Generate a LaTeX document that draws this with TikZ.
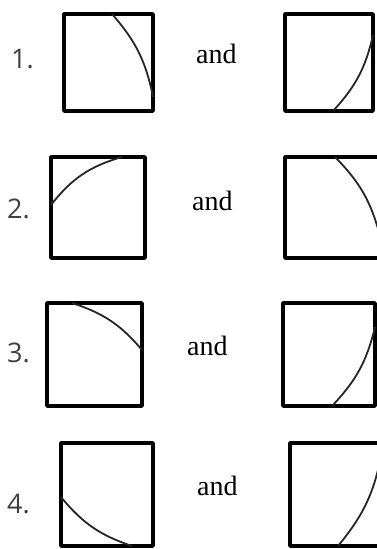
\documentclass[tikz,border=0pt]{standalone}
\usepackage{fontspec}
\setmainfont{Liberation Serif}
\newfontfamily\numfont{Open Sans}
\usepackage{tikz}
\usetikzlibrary{positioning}

\tikzset{
    tilebox/.style={line width=3.5pt, line join=round},
    quarterarc/.style={line width=1.8pt, black!85},
    numlabel/.style={anchor=base west, inner sep=0pt, font=\numfont\fontsize{27}{30}\selectfont, text=black!75},
    andlabel/.style={anchor=base west, inner sep=0pt, font=\fontsize{28}{30}\selectfont, text=black}
}

\begin{document}
\begin{tikzpicture}[x=1pt,y=1pt]

        %=====================
        % Frame
        %=====================
        \clip (0,0) rectangle (377,-549);

        %=====================
        % Row 1
        %=====================
        \node[numlabel] (num1) at (11,-68) {1.};
        \draw[tilebox] (64,-14) rectangle (153,-111);
        \draw[quarterarc] (112,-14) to[bend left=15] (153,-97);
        \node[andlabel] (and1) at (196,-63) {and};
        \draw[tilebox] (285,-14) rectangle (373,-111);
        \draw[quarterarc] (333,-111) to[bend right=15] (373,-35);

        %=====================
        % Row 2
        %=====================
        \node[numlabel] (num2) at (7,-218) {2.};
        \draw[tilebox] (51,-157) rectangle (145,-258);
        \draw[quarterarc] (51,-205) to[bend left=18] (122,-157);
        \node[andlabel] (and2) at (192,-210) {and};
        \draw[tilebox] (285,-157) rectangle (380,-258);
        \draw[quarterarc] (335,-157) to[bend left=15] (380,-236);

        %=====================
        % Row 3
        %=====================
        \node[numlabel] (num3) at (7,-362) {3.};
        \draw[tilebox] (47,-303) rectangle (142,-406);
        \draw[quarterarc] (72,-303) to[bend left=16] (142,-350);
        \node[andlabel] (and3) at (187,-355) {and};
        \draw[tilebox] (283,-303) rectangle (375,-406);
        \draw[quarterarc] (332,-406) to[bend right=15] (375,-327);

        %=====================
        % Row 4
        %=====================
        \node[numlabel] (num4) at (7,-513) {4.};
        \draw[tilebox] (61,-443) rectangle (153,-546);
        \draw[quarterarc] (61,-497) to[bend right=16] (132,-546);
        \node[andlabel] (and4) at (197,-495) {and};
        \draw[tilebox] (290,-443) rectangle (382,-546);
        \draw[quarterarc] (338,-546) to[bend right=15] (382,-450);

    \end{tikzpicture}
\end{document}
